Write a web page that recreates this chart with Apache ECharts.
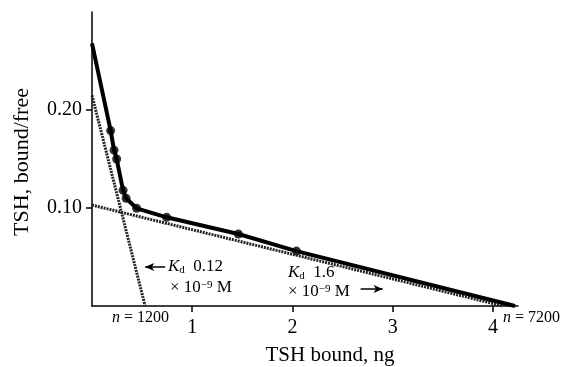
<!DOCTYPE html>
<html>
<head>
<meta charset="utf-8">
<script src="https://cdn.jsdelivr.net/npm/echarts@6/dist/echarts.min.js"></script>
<style>
  html, body { margin: 0; padding: 0; background: #fff; }
  #chart { width: 569px; height: 367px; }
</style>
</head>
<body>
<div id="chart"></div>
<script>
// measured points (TSH bound ng, bound/free)
const boundNg = [0.186, 0.22, 0.246, 0.31, 0.34, 0.445, 0.745, 1.46, 2.04]
const boundFree = [0.179, 0.159, 0.150, 0.118, 0.110, 0.0997, 0.0905, 0.0735, 0.056]

// ends of the fitted total curve
const curveStart = [0, 0.268]
const curveEnd = [4.22, 0]

// the two component lines (Kd 0.12 and Kd 1.6)
const highAffinity = [[0, 0.215], [0.53, 0]]
const lowAffinity = [[0, 0.103], [4.1, 0]]

const xTicks = [1, 2, 3, 4]
const yTicks = [0.1, 0.2]

const serif = '"Liberation Serif", "DejaVu Serif", serif'
const points = boundNg.map((x, i) => [x, boundFree[i]])
const curve = [curveStart, ...points, curveEnd]

const chart = echarts.init(document.getElementById('chart'))

const kdRich = {
  k: { fontFamily: serif, fontSize: 17, fontStyle: 'italic', color: '#000' },
  sub: { fontFamily: serif, fontSize: 11, color: '#000', verticalAlign: 'bottom', padding: [6, 0, 0, 0] },
  t: { fontFamily: serif, fontSize: 17, color: '#000' },
  sup: { fontFamily: serif, fontSize: 11, color: '#000', verticalAlign: 'top', padding: [0, 0, 6, 0] }
}
const nRich = { k: { fontFamily: serif, fontSize: 16, fontStyle: 'italic', color: '#000' } }

const option = {
  backgroundColor: '#fff',
  animation: false,
  grid: { left: 92, right: 51, top: 12, bottom: 61, containLabel: false },
  xAxis: {
    type: 'value',
    min: 0,
    max: 4.25,
    axisLine: { show: true, lineStyle: { color: '#000', width: 1.5 } },
    axisTick: { show: true, customValues: xTicks, length: 6, lineStyle: { color: '#000', width: 1.5 } },
    axisLabel: { customValues: xTicks, margin: 12, fontFamily: serif, fontSize: 20, color: '#000' },
    splitLine: { show: false }
  },
  yAxis: {
    type: 'value',
    min: 0,
    max: 0.3,
    axisLine: { show: true, lineStyle: { color: '#000', width: 1.5 } },
    axisTick: { show: true, customValues: yTicks, length: 6, lineStyle: { color: '#000', width: 1.5 } },
    axisLabel: {
      customValues: yTicks, margin: 10, fontFamily: serif, fontSize: 20, color: '#000',
      formatter: v => v.toFixed(2)
    },
    splitLine: { show: false }
  },
  graphic: [
    {
      type: 'text', x: 22, y: 162, rotation: Math.PI / 2,
      style: { text: 'TSH, bound/free', font: '22px ' + serif, fill: '#000', align: 'center', verticalAlign: 'middle' }
    },
    {
      type: 'text', x: 330, y: 355,
      style: { text: 'TSH bound, ng', font: '21px ' + serif, fill: '#000', align: 'center', verticalAlign: 'middle' }
    },
    {
      type: 'text', x: 112, y: 318,
      style: { text: '{k|n} = 1200', rich: nRich, font: '16px ' + serif, fill: '#000', verticalAlign: 'middle' }
    },
    {
      type: 'text', x: 503, y: 318,
      style: { text: '{k|n} = 7200', rich: nRich, font: '16px ' + serif, fill: '#000', verticalAlign: 'middle' }
    },
    {
      type: 'text', x: 168, y: 267,
      style: { text: '{k|K}{sub|d}{t|  0.12}', rich: kdRich, verticalAlign: 'middle' }
    },
    {
      type: 'text', x: 170, y: 288,
      style: { text: '{t|× 10}{sup|−9}{t| M}', rich: kdRich, verticalAlign: 'middle' }
    },
    {
      type: 'text', x: 288, y: 273,
      style: { text: '{k|K}{sub|d}{t|  1.6}', rich: kdRich, verticalAlign: 'middle' }
    },
    {
      type: 'text', x: 288, y: 292,
      style: { text: '{t|× 10}{sup|−9}{t| M}', rich: kdRich, verticalAlign: 'middle' }
    }
  ],
  series: [
    {
      name: 'high affinity',
      type: 'line',
      data: highAffinity,
      showSymbol: false,
      silent: true,
      lineStyle: { color: '#222', width: 3, type: [2, 1] },
      markLine: {
        silent: true,
        symbol: ['arrow', 'none'],
        symbolSize: [6, 9],
        label: { show: false },
        lineStyle: { color: '#000', width: 1.5, type: 'solid' },
        data: [[{ coord: [0.53, 0.0398] }, { coord: [0.73, 0.0398] }]]
      }
    },
    {
      name: 'low affinity',
      type: 'line',
      data: lowAffinity,
      showSymbol: false,
      silent: true,
      lineStyle: { color: '#222', width: 3, type: [2, 1] },
      markLine: {
        silent: true,
        symbol: ['none', 'arrow'],
        symbolSize: [6, 9],
        label: { show: false },
        lineStyle: { color: '#000', width: 1.5, type: 'solid' },
        data: [[{ coord: [2.68, 0.0173] }, { coord: [2.9, 0.0173] }]]
      }
    },
    {
      name: 'total',
      type: 'line',
      data: curve,
      showSymbol: false,
      silent: true,
      lineStyle: { color: '#000', width: 4 }
    },
    {
      name: 'measured',
      type: 'scatter',
      data: points,
      symbolSize: 9,
      itemStyle: { color: '#000' }
    }
  ]
}

chart.setOption(option)
</script>
</body>
</html>
